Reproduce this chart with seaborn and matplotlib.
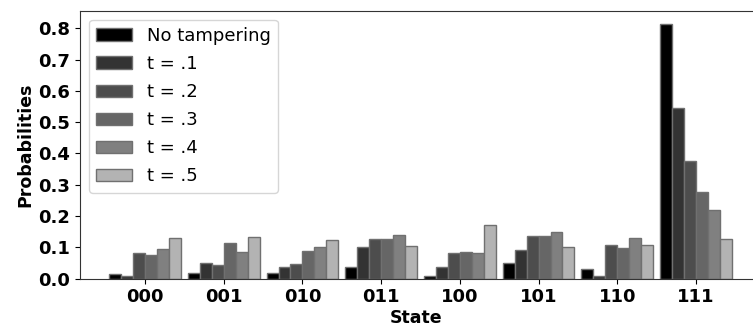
import matplotlib
matplotlib.use("Agg")
import matplotlib.pyplot as plt
import seaborn as sns
import pandas as pd

states = ["000", "001", "010", "011", "100", "101", "110", "111"]
series_names = ["No tampering", "t = .1", "t = .2", "t = .3", "t = .4", "t = .5"]

no_tampering = [0.014, 0.017, 0.017, 0.037, 0.009, 0.049, 0.030, 0.814]
t_01 = [0.009, 0.049, 0.037, 0.100, 0.037, 0.093, 0.010, 0.546]
t_02 = [0.081, 0.045, 0.046, 0.128, 0.081, 0.135, 0.109, 0.377]
t_03 = [0.077, 0.113, 0.089, 0.128, 0.086, 0.135, 0.097, 0.276]
t_04 = [0.095, 0.086, 0.102, 0.141, 0.082, 0.148, 0.129, 0.219]
t_05 = [0.129, 0.132, 0.125, 0.104, 0.172, 0.100, 0.109, 0.126]

series_values = [no_tampering, t_01, t_02, t_03, t_04, t_05]
colors = ["#000000", "#333333", "#4d4d4d", "#666666", "#808080", "#b3b3b3"]

rows = []
for name, vals in zip(series_names, series_values):
    for s, v in zip(states, vals):
        rows.append({"State": s, "Probability": v, "Series": name})
df = pd.DataFrame(rows)

sns.set_style("ticks")
plt.rcParams["font.family"] = ["DejaVu Sans"]
plt.rcParams.update({
    "text.color": "black",
    "axes.labelcolor": "black",
    "xtick.color": "black",
    "ytick.color": "black",
    "axes.edgecolor": "#333333",
})

fig = plt.figure(figsize=(7.53, 3.29), dpi=100)
ax = fig.add_axes([0.1062, 0.1529, 0.8938, 0.8146])

sns.barplot(
    data=df, x="State", y="Probability", hue="Series",
    order=states, hue_order=series_names, palette=colors,
    width=0.91, gap=0, edgecolor="#707070", linewidth=1,
    errorbar=None, ax=ax,
)

ax.set_xlim(-0.826, 7.724)
ax.set_ylim(0, 0.856)
ax.set_yticks([0.0, 0.1, 0.2, 0.3, 0.4, 0.5, 0.6, 0.7, 0.8])
ax.set_yticklabels([f"{v:.1f}" for v in ax.get_yticks()])
ax.spines["right"].set_visible(False)

for lab in ax.get_xticklabels() + ax.get_yticklabels():
    lab.set_fontweight("bold")
    lab.set_fontsize(13)

ax.set_xlabel("State", fontsize=12.5, fontweight="bold", labelpad=2)
ax.set_ylabel("Probabilities", fontsize=12.5, fontweight="bold", labelpad=3)

ax.legend(loc="upper left", fontsize=13, title=None, labelspacing=0.56)

fig.savefig("out.png", dpi=100)
